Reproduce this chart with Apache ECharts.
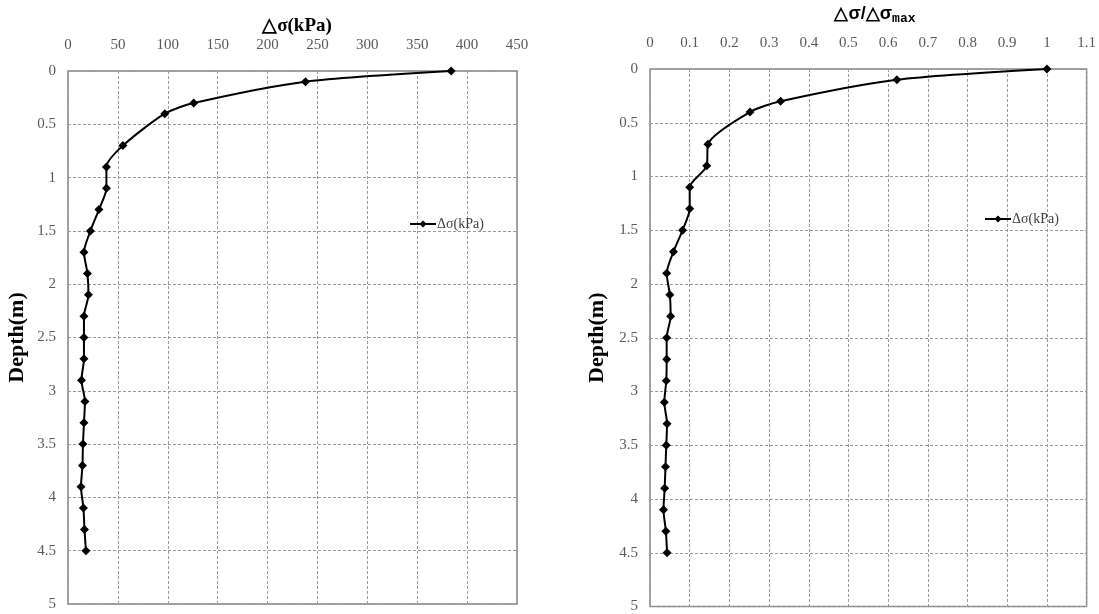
<!DOCTYPE html>
<html>
<head>
<meta charset="utf-8">
<script src="https://cdn.jsdelivr.net/npm/echarts@6/dist/echarts.min.js"></script>
<style>html,body{margin:0;padding:0;background:#fff;}#c{width:1099px;height:614px;}</style>
</head>
<body>
<div id="c"></div>
<script>
// Depth (m)
var depths = [0, 0.1, 0.3, 0.4, 0.7, 0.9, 1.1, 1.3, 1.5, 1.7, 1.9, 2.1, 2.3, 2.5, 2.7, 2.9, 3.1, 3.3, 3.5, 3.7, 3.9, 4.1, 4.3, 4.5];
// Δσ (kPa), left chart
var stressKPa = [384, 238, 126, 97, 55, 38.5, 38.5, 31, 22.5, 16, 19.5, 20.5, 16, 16, 16, 13.5, 17, 16, 15, 14.5, 13, 15.5, 16.5, 18];
// Δσ/Δσmax, right chart
var stressRatio = [1, 0.622, 0.329, 0.252, 0.146, 0.143, 0.1, 0.1, 0.082, 0.059, 0.042, 0.05, 0.052, 0.042, 0.042, 0.041, 0.036, 0.043, 0.041, 0.039, 0.037, 0.034, 0.04, 0.043];
var seriesName = 'Δσ(kPa)';
var leftTitle = '△σ(kPa)';
var rightTitleMain = '△σ/△σ';
var rightTitleSub = 'max';
var yName = 'Depth(m)';

function pairs(xs) { return xs.map(function (v, i) { return [v, depths[i]]; }); }

var serif = '"Liberation Serif", "Times New Roman", serif';
var labelStyle = { color: '#595959', fontFamily: serif, fontSize: 15 };
var gridLine = { show: true, lineStyle: { color: '#9a9a9a', type: [3, 2], width: 1 } };

function xAx(gi, max, interval) {
  return {
    type: 'value', gridIndex: gi, position: 'top', min: 0, max: max, interval: interval,
    axisLine: { show: false }, axisTick: { show: false },
    axisLabel: Object.assign({ margin: 18 }, labelStyle),
    splitLine: gridLine
  };
}
function yAx(gi, gap) {
  return {
    type: 'value', gridIndex: gi, inverse: true, min: 0, max: 5, interval: 0.5,
    axisLine: { show: false }, axisTick: { show: false },
    axisLabel: Object.assign({ margin: 12 }, labelStyle),
    splitLine: gridLine,
    name: yName, nameLocation: 'middle', nameRotate: 90, nameGap: gap,
    nameTextStyle: { fontFamily: serif, fontWeight: 'bold', fontSize: 22, color: '#000' }
  };
}
function ser(data, xi) {
  return {
    type: 'line', name: seriesName, xAxisIndex: xi, yAxisIndex: xi,
    data: pairs(data), smooth: 0.25,
    symbol: 'diamond', symbolSize: 9,
    lineStyle: { color: '#000', width: 2 },
    itemStyle: { color: '#000' }
  };
}

var chart = echarts.init(document.getElementById('c'));
chart.setOption({
  animation: false,
  backgroundColor: '#fff',
  title: [
    { text: leftTitle, left: 292, top: 12, textAlign: 'center',
      textStyle: { fontFamily: serif, fontWeight: 'bold', fontSize: 19, color: '#000' } },
    { text: '{a|' + rightTitleMain + '}{s|' + rightTitleSub + '}', left: 870, top: -2, textAlign: 'center',
      textStyle: { rich: {
        a: { fontFamily: '"Liberation Sans", Arial, sans-serif', fontWeight: 'bold', fontSize: 18, color: '#000', lineHeight: 22, verticalAlign: 'middle' },
        s: { fontFamily: '"Liberation Mono", "DejaVu Sans Mono", monospace', fontWeight: 'bold', fontSize: 13, color: '#000', lineHeight: 22, verticalAlign: 'bottom', padding: [10, 0, 0, 0] }
      } } }
  ],
  legend: [
    { data: [seriesName], left: 404, top: 212, itemWidth: 26, itemHeight: 9, itemGap: 2,
      textStyle: { fontFamily: serif, fontSize: 14, color: '#404040', padding: [0, 0, 0, -4] } },
    { data: [seriesName], left: 979, top: 207, itemWidth: 26, itemHeight: 9, itemGap: 2,
      textStyle: { fontFamily: serif, fontSize: 14, color: '#404040', padding: [0, 0, 0, -4] } }
  ],
  grid: [
    { left: 68, top: 71, width: 449, height: 533, show: true, borderColor: '#858585', borderWidth: 1.5, backgroundColor: 'transparent' },
    { left: 650, top: 69, width: 440, height: 538, show: true, borderColor: '#858585', borderWidth: 1.5, backgroundColor: 'transparent' }
  ],
  xAxis: [xAx(0, 450, 50), xAx(1, 1.1, 0.1)],
  yAxis: [yAx(0, 40), yAx(1, 42)],
  series: [ser(stressKPa, 0), ser(stressRatio, 1)]
});
</script>
</body>
</html>
